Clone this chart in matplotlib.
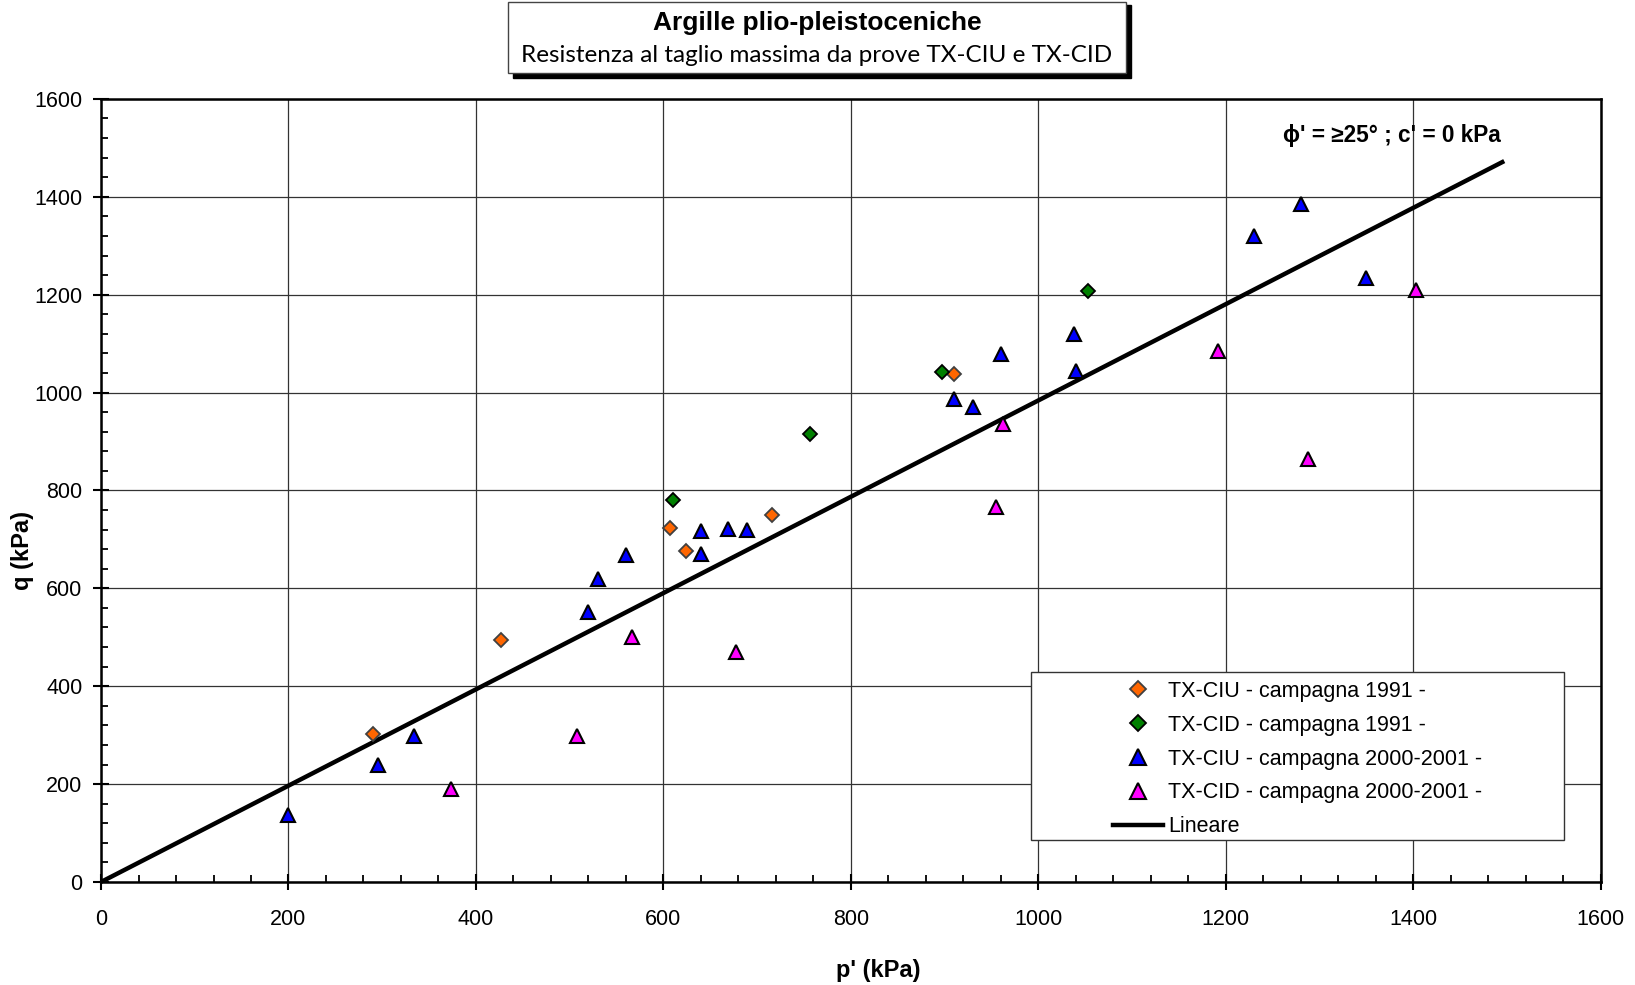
import matplotlib.pyplot as plt
from matplotlib.patches import Rectangle
import numpy as np

# data (p', q in kPa)
ciu91_p = [290, 427, 607, 624, 716, 910]
ciu91_q = [303, 494, 724, 677, 750, 1038]

cid91_p = [610, 756, 897, 1053]
cid91_q = [780, 916, 1042, 1208]

ciu00_p = [200, 295, 334, 520, 530, 560, 640, 640, 669, 689, 910, 930, 960, 1038, 1040, 1230, 1280, 1350]
ciu00_q = [136, 239, 298, 552, 620, 669, 671, 718, 722, 720, 986, 971, 1078, 1120, 1045, 1320, 1385, 1235]

cid00_p = [373, 508, 567, 677, 955, 962, 1192, 1288, 1403]
cid00_q = [190, 298, 500, 470, 767, 935, 1085, 865, 1210]

# linear envelope q = M p'
phi = 25.0
line_p = [0, 1495]

plt.rcParams['font.family'] = ['Liberation Sans', 'DejaVu Sans']

fig = plt.figure(figsize=(16.35, 9.85), dpi=100)
ax = fig.add_axes([0.0618, 0.1046, 0.9172, 0.795])

sphi = np.sin(np.radians(phi))
M = 6 * sphi / (3 - sphi)
ax.plot(line_p, [M * p for p in line_p], color='black', lw=3.2, label='Lineare', zorder=3)

ax.plot(ciu91_p, ciu91_q, ls='none', marker='D', ms=7.5, mfc='#FF6600', mec='#404040', mew=1.3,
        label='TX-CIU - campagna 1991 -', zorder=4)
ax.plot(cid91_p, cid91_q, ls='none', marker='D', ms=7.5, mfc='#008000', mec='black', mew=1.3,
        label='TX-CID - campagna 1991 -', zorder=4)
ax.plot(ciu00_p, ciu00_q, ls='none', marker='^', ms=10, mfc='#0000FF', mec='black', mew=1.5,
        label='TX-CIU - campagna 2000-2001 -', zorder=4)
ax.plot(cid00_p, cid00_q, ls='none', marker='^', ms=10, mfc='#FF00FF', mec='black', mew=1.5,
        label='TX-CID - campagna 2000-2001 -', zorder=4)

ax.set_xlim(0, 1600)
ax.set_ylim(0, 1600)
ax.set_xticks(np.arange(0, 1601, 200))
ax.set_yticks(np.arange(0, 1601, 200))
ax.set_xticks(np.arange(0, 1601, 40), minor=True)
ax.set_yticks(np.arange(0, 1601, 40), minor=True)
ax.grid(True, which='major', color='#333333', lw=0.9)
ax.tick_params(which='major', direction='inout', length=11, width=1.5, labelsize=15.5)
ax.tick_params(axis='x', which='major', pad=14)
ax.tick_params(axis='y', which='major', pad=8)
ax.tick_params(which='minor', direction='in', length=5, width=1.3)
for s in ax.spines.values():
    s.set_linewidth(1.8)

ax.set_xlabel("p' (kPa)", fontsize=17, fontweight='bold')
ax.xaxis.set_label_coords(0.518, -0.098)
ax.set_ylabel("q (kPa)", fontsize=17, fontweight='bold')
ax.yaxis.set_label_coords(-0.045, 0.423)

ax.text(1377, 1525, "\u03d5' = \u226525\u00b0 ; c' = 0 kPa", fontsize=16.3, fontweight='bold',
        ha='center', va='center', family=['Liberation Sans', 'DejaVu Sans'])

# legend box drawn by hand (wider than its content, as in the original)
ax.add_patch(Rectangle((0.6203, 0.0533), 0.3554, 0.2143, transform=ax.transAxes,
                       facecolor='white', edgecolor='#333333', lw=1.0, zorder=5))
order = [1, 2, 3, 4, 0]
h, l = ax.get_legend_handles_labels()
leg = ax.legend([h[i] for i in order], [l[i] for i in order], loc='upper left',
                bbox_to_anchor=(0.675, 0.257), fontsize=15.5, handlelength=2.3,
                borderpad=0, labelspacing=0.6, frameon=False, markerscale=1.15,
                borderaxespad=0, handletextpad=0.25)
leg.set_zorder(6)

# title box with shadow
fig.patches.append(Rectangle((0.3137, 0.9210), 0.3780, 0.0740, transform=fig.transFigure,
                             facecolor='black', edgecolor='black', zorder=1))
fig.patches.append(Rectangle((0.3107, 0.9260), 0.3780, 0.0720, transform=fig.transFigure,
                             facecolor='white', edgecolor='#444444', lw=1.0, zorder=2))
fig.text(0.4997, 0.977, 'Argille plio-pleistoceniche', ha='center', va='center',
         fontsize=19, fontweight='bold', zorder=3)
fig.text(0.4997, 0.944, 'Resistenza al taglio massima da prove TX-CIU e TX-CID', ha='center',
         va='center', fontsize=17.5, family=['Lato', 'DejaVu Sans'], zorder=3)

fig.savefig('out.png', dpi=100)
